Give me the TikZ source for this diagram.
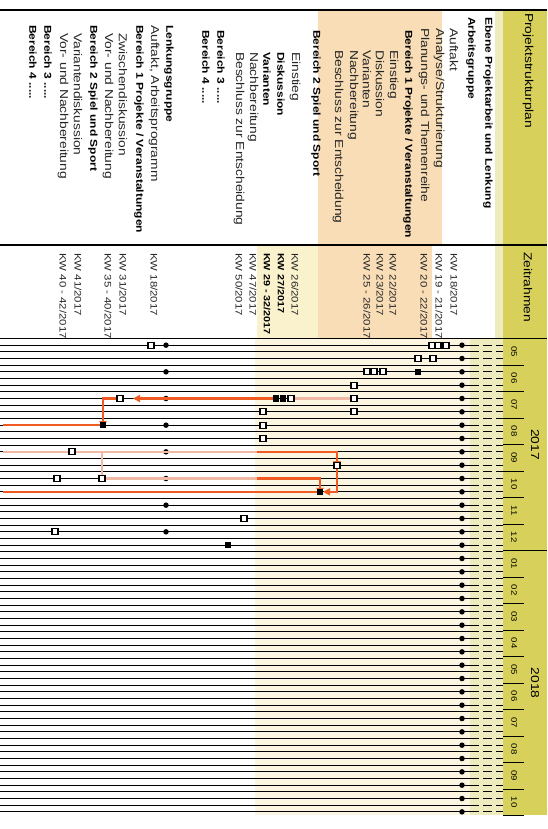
\documentclass[tikz,border=0pt]{standalone}
\usepackage{fontspec}
\setmainfont{Liberation Sans}[FakeStretch=1.2]
\usetikzlibrary{arrows.meta}

\definecolor{hdyellow}{RGB}{215,209,92}
\definecolor{paleyellow}{RGB}{238,236,190}
\definecolor{peach}{RGB}{248,221,182}
\definecolor{cream}{RGB}{252,245,226}
\definecolor{lightyellow}{RGB}{250,241,205}
\definecolor{planorange}{RGB}{240,90,35}
\definecolor{planpink}{RGB}{240,185,165}

\begin{document}
\begin{tikzpicture}[x=1pt,y=-1pt,
  rowtext/.style={rotate=-90,anchor=west,inner sep=0pt,text=black!85,font=\fontsize{11.5}{13}\selectfont},
  rowhead/.style={rotate=-90,anchor=west,inner sep=0pt,text=black,font=\fontsize{10}{12}\selectfont\bfseries},
  datetext/.style={rowtext,font=\fontsize{9.5}{11}\selectfont},
  datehead/.style={rowhead,font=\fontsize{9}{11}\selectfont\bfseries},
  headtext/.style={rotate=-90,anchor=west,inner sep=0pt,font=\fontsize{11.5}{13}\selectfont},
  monthtext/.style={rotate=-90,inner sep=0pt,font=\fontsize{8}{9}\selectfont},
  yeartext/.style={rotate=-90,inner sep=0pt,font=\fontsize{11.5}{13}\selectfont},
  weekline/.style={line width=1.1pt},
  openmark/.style={draw=black,fill=white,line width=1.3pt,minimum size=6pt,inner sep=0pt},
  fullmark/.style={fill=black,minimum size=6.5pt,inner sep=0pt},
  meetdot/.style={circle,fill=black,minimum size=5.5pt,inner sep=0pt},
  link/.style={planorange,line width=2.4pt},
  fadelink/.style={planpink,line width=2.4pt},
  linktip/.style={-{Triangle[length=7pt,width=7pt]}}
]
\useasboundingbox (0,0) rectangle (547,829);

\def\yz{338.5}
\def\wk{6.667}
\def\mo{26.5}

% background bands
\fill[hdyellow] (503,10) rectangle (547,815);
\fill[paleyellow] (495,10) rectangle (503,338.5);
\fill[paleyellow] (470,338.5) rectangle (503,815);
\fill[peach] (318,10) rectangle (442,245);
\fill[peach] (318,245) rectangle (432,338.5);
\fill[lightyellow] (257,245) rectangle (318,338.5);
\fill[cream] (255,338.5) rectangle (470,815);

% table rules
\draw[line width=1.4pt] (0,10) -- (547,10);
\draw[line width=1.4pt] (0,245) -- (547,245);
\draw[line width=1.4pt] (0,\yz) -- (547,\yz);

% week lines
\foreach \n in {1,...,71} {
  \draw[weekline] (0,{\yz+\n*\wk}) -- (470,{\yz+\n*\wk});
  \draw[weekline,dash pattern=on 9pt off 4pt] (470,{\yz+\n*\wk}) -- (503,{\yz+\n*\wk});
}

% months and years
\foreach \m/\lab in {0/05,1/06,2/07,3/08,4/09,5/10,6/11,7/12,8/01,9/02,10/03,11/04,12/05,13/06,14/07,15/08,16/09,17/10} {
  \draw[line width=0.9pt] (503,{\yz+(\m+1)*\mo}) -- (524,{\yz+(\m+1)*\mo});
  \node[monthtext] (mon\m) at (514,{\yz+(\m+0.5)*\mo}) {\lab};
}
\draw[line width=0.9pt] (503,{\yz+8*\mo}) -- (547,{\yz+8*\mo});
\node[yeartext] (yrA) at (535,{\yz+4*\mo}) {2017};
\node[yeartext] (yrB) at (535,{\yz+13*\mo}) {2018};

% header
\node[headtext] (hdPlan) at (528,13) {Projektstrukturplan};
\node[headtext] (hdZeit) at (528,252) {Zeitrahmen};

% Arbeitsgruppe
\node[rowhead] (agEbene) at (488,17) {Ebene Projektarbeit und Lenkung};
\node[rowhead] (agGruppe) at (471,17) {Arbeitsgruppe};
\node[rowtext] (agAuftakt) at (454,28) {Auftakt};
\node[rowtext] (agAnalyse) at (439,28) {Analyse/Strukturierung};
\node[rowtext] (agPlanung) at (424,28) {Planungs- und Themenreihe};
\node[rowhead] (agBerEins) at (408,30) {Bereich 1 Projekte / Veranstaltungen};
\node[rowtext] (agEinsEin) at (393,50) {Einstieg};
\node[rowtext] (agEinsDis) at (380,50) {Diskussion};
\node[rowtext] (agEinsVar) at (367,50) {Varianten};
\node[rowtext] (agEinsNach) at (353,50) {Nachbereitung};
\node[rowtext] (agEinsBes) at (338,50) {Beschluss zur Entscheidung};
\node[rowhead] (agBerZwei) at (316,30) {Bereich 2 Spiel und Sport};
\node[rowtext] (agZweiEin) at (295,52) {Einstieg};
\node[rowhead] (agZweiDis) at (281,52) {Diskussion};
\node[rowhead] (agZweiVar) at (267,52) {Varianten};
\node[rowtext] (agZweiNach) at (253,52) {Nachbereitung};
\node[rowtext] (agZweiBes) at (239,52) {Beschluss zur Entscheidung};
\node[rowhead] (agBerDrei) at (221,30) {Bereich 3 .....};
\node[rowhead] (agBerVier) at (206,30) {Bereich 4 .....};

% Lenkungsgruppe
\node[rowhead] (lgGruppe) at (169,25) {Lenkungsgruppe};
\node[rowtext] (lgAuftakt) at (154,25) {Auftakt, Arbeitsprogramm};
\node[rowhead] (lgBerEins) at (139,25) {Bereich 1 Projekte / Veranstaltungen};
\node[rowtext] (lgEinsDis) at (123,33) {Zwischendiskussion};
\node[rowtext] (lgEinsNach) at (108,33) {Vor- und Nachbereitung};
\node[rowhead] (lgBerZwei) at (93,25) {Bereich 2 Spiel und Sport};
\node[rowtext] (lgZweiVar) at (78,33) {Variantendiskussion};
\node[rowtext] (lgZweiNach) at (63,33) {Vor- und Nachbereitung};
\node[rowhead] (lgBerDrei) at (48,25) {Bereich 3 .....};
\node[rowhead] (lgBerVier) at (33,25) {Bereich 4 .....};

% Zeitrahmen
\node[datetext] (dtA) at (454,253) {KW 18/2017};
\node[datetext] (dtB) at (439,253) {KW 19 - 21/2017};
\node[datetext] (dtC) at (424,253) {KW 20 - 22/2017};
\node[datetext] (dtD) at (393,253) {KW 22/2017};
\node[datetext] (dtE) at (380,253) {KW 23/2017};
\node[datetext] (dtF) at (367,253) {KW 25 - 26/2017};
\node[datetext] (dtG) at (295,253) {KW 26/2017};
\node[datehead] (dtH) at (281,253) {KW 27/2017};
\node[datehead] (dtI) at (267,253) {KW 29 - 32/2017};
\node[datetext] (dtJ) at (253,253) {KW 47/2017};
\node[datetext] (dtK) at (239,253) {KW 50/2017};
\node[datetext] (dtL) at (154,253) {KW 18/2017};
\node[datetext] (dtM) at (123,253) {KW 31/2017};
\node[datetext] (dtN) at (108,253) {KW 35 - 40/2017};
\node[datetext] (dtO) at (78,253) {KW 41/2017};
\node[datetext] (dtP) at (63,253) {KW 40 - 42/2017};

% meetings
\foreach \n in {0,...,35} {
  \node[meetdot] (agm\n) at (462,{\yz+(2*\n+1)*\wk}) {};
}
\foreach \n in {0,...,7} {
  \node[meetdot] (lgm\n) at (166,{\yz+(4*\n+1)*\wk}) {};
}

% markers
\foreach \xx/\n/\nm/\st in {446/1/a1/openmark,438/1/a2/openmark,432/1/a3/openmark,
    433/3/a4/openmark,418/3/a5/openmark,383/5/a6/openmark,374/5/a7/openmark,
    367/5/a8/openmark,418/5/a9/fullmark,354/7/a10/openmark,354/9/a11/openmark,
    354/11/a12/openmark,291/9/a13/openmark,283/9/a14/fullmark,276/9/a15/fullmark,
    263/11/a16/openmark,263/13/a17/openmark,263/15/a18/openmark,337/19/a19/openmark,
    320/23/a20/fullmark,244/27/a21/openmark,228/31/a22/fullmark,
    151/1/l1/openmark,120/9/l2/openmark,103/13/l3/fullmark,72/17/l4/openmark,
    57/21/l5/openmark,102/21/l6/openmark,55/29/l7/openmark} {
  \coordinate (\nm) at (\xx,{\yz+\n*\wk});
}

\coordinate (e1) at (3,{\yz+13*\wk});
\coordinate (e2) at (3,{\yz+17*\wk});
\coordinate (c2) at (257,{\yz+17*\wk});
\coordinate (c3) at (257,{\yz+21*\wk});
\coordinate (e3) at (3,{\yz+23*\wk});

% links
\draw[fadelink] (a13) -- (a11);
\draw[link,linktip,shorten >=13pt] (a15) -- (l2);
\draw[link,linktip] (l2) -| ([yshift=-3pt]l3);
\draw[link] (l3) -- (e1);
\draw[fadelink] (e2) -- (c2);
\draw[link,linktip] (c2) -| ([yshift=-3pt]a19);
\draw[fadelink,linktip] (l6 |- c2) -- ([yshift=-3pt]l6);
\draw[fadelink] (l6) -- (c3);
\draw[link,linktip] (c3) -| ([yshift=-3pt]a20);
\draw[link,linktip] ([yshift=-3pt]a19) |- ([xshift=3pt]a20);
\draw[link] (a20) -- (e3);

\foreach \xx/\n/\nm/\st in {446/1/a1/openmark,438/1/a2/openmark,432/1/a3/openmark,
    433/3/a4/openmark,418/3/a5/openmark,383/5/a6/openmark,374/5/a7/openmark,
    367/5/a8/openmark,418/5/a9/fullmark,354/7/a10/openmark,354/9/a11/openmark,
    354/11/a12/openmark,291/9/a13/openmark,283/9/a14/fullmark,276/9/a15/fullmark,
    263/11/a16/openmark,263/13/a17/openmark,263/15/a18/openmark,337/19/a19/openmark,
    320/23/a20/fullmark,244/27/a21/openmark,228/31/a22/fullmark,
    151/1/l1/openmark,120/9/l2/openmark,103/13/l3/fullmark,72/17/l4/openmark,
    57/21/l5/openmark,102/21/l6/openmark,55/29/l7/openmark} {
  \node[\st] (m\nm) at (\nm) {};
}

\end{tikzpicture}
\end{document}
